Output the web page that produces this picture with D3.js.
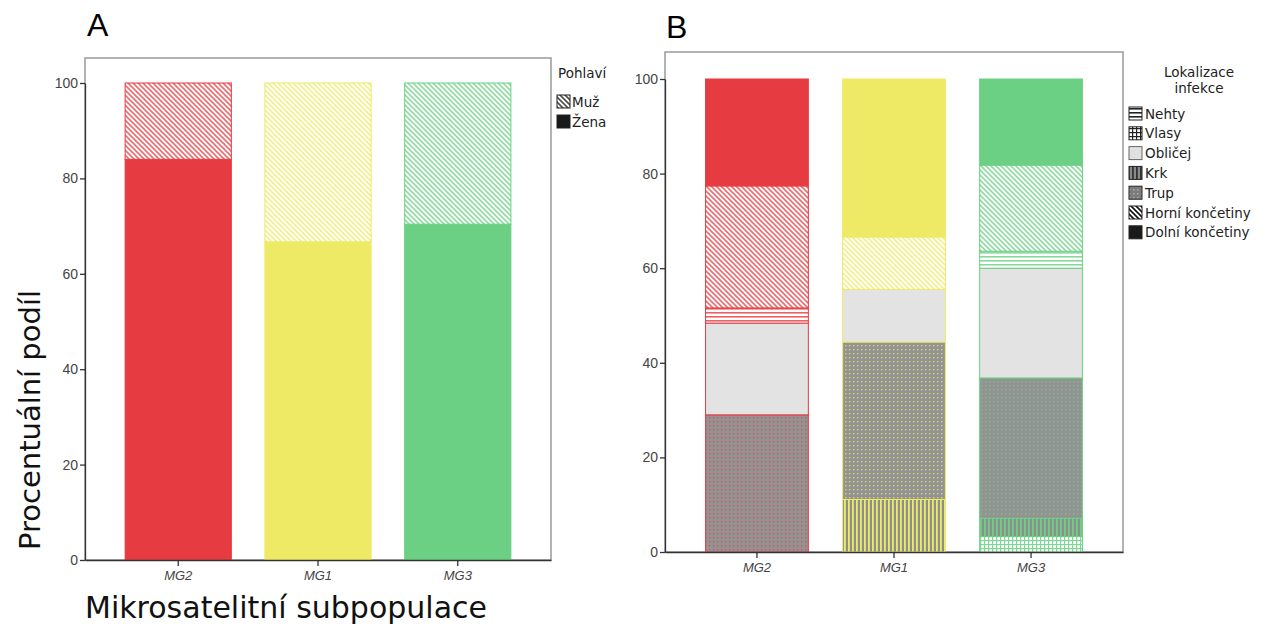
<!DOCTYPE html>
<html>
<head>
<meta charset="utf-8">
<script src="https://cdn.jsdelivr.net/npm/d3@7"></script>
<style>
  html, body { margin: 0; padding: 0; background: #fff; }
  svg { display: block; }
  .tick text { fill: #444; }
</style>
</head>
<body>
<svg id="chart" width="1278" height="629"></svg>
<script>
// Subpopulations (x categories)
const groups = ["MG2", "MG1", "MG3"];
const groupColors = ["#e63b40", "#eeea66", "#6bd083"];
const yTicks = [0, 20, 40, 60, 80, 100];

// Panel A: share by sex (%)
const sexLegend = ["Muž", "Žena"];
const zenaPct = [84.0, 66.7, 70.4];
const muzPct = [16.0, 33.3, 29.6];

// Panel B: share by infection site (%), stacked bottom to top
const siteStackOrder = ["Vlasy", "Krk", "Trup", "Obličej", "Nehty", "Horní končetiny", "Dolní končetiny"];
const siteLegend = ["Nehty", "Vlasy", "Obličej", "Krk", "Trup", "Horní končetiny", "Dolní končetiny"];
const vlasyPct = [0, 0, 3.3];
const krkPct = [0, 11.1, 3.8];
const trupPct = [29.0, 33.3, 29.7];
const oblicejPct = [19.4, 11.1, 23.2];
const nehtyPct = [3.2, 0, 3.6];
const horniPct = [25.8, 11.1, 18.2];
const dolniPct = [22.6, 33.4, 18.2];

const svg = d3.select("#chart");
const defs = svg.append("defs");

// Texture for each fill style, in a given line colour
const patternKinds = {
  diag: (p, c, bg) => {
    p.attr("width", 5).attr("height", 5);
    p.append("rect").attr("width", 5).attr("height", 5).attr("fill", bg);
    p.append("path").attr("d", "M0,0L5,5M-1,4L1,6M4,-1L6,1")
      .attr("stroke", c).attr("stroke-width", 1.6);
  },
  hlines: (p, c, bg) => {
    p.attr("width", 4).attr("height", 4);
    p.append("rect").attr("width", 4).attr("height", 4).attr("fill", bg);
    p.append("rect").attr("y", 0).attr("width", 4).attr("height", 1.6).attr("fill", c);
  },
  grid: (p, c, bg) => {
    p.attr("width", 4).attr("height", 4);
    p.append("rect").attr("width", 4).attr("height", 4).attr("fill", bg);
    p.append("rect").attr("width", 4).attr("height", 1.2).attr("fill", c);
    p.append("rect").attr("width", 1.2).attr("height", 4).attr("fill", c);
  },
  vlines: (p, c, bg) => {
    p.attr("width", 4).attr("height", 4);
    p.append("rect").attr("width", 4).attr("height", 4).attr("fill", bg);
    p.append("rect").attr("x", 0).attr("width", 1.8).attr("height", 4).attr("fill", c);
  },
  dots: (p, c, bg) => {
    p.attr("width", 4).attr("height", 4);
    p.append("rect").attr("width", 4).attr("height", 4).attr("fill", bg);
    p.append("rect").attr("x", 1).attr("y", 1).attr("width", 1.4).attr("height", 1.4).attr("fill", c).attr("opacity", 0.75);
  }
};

function makePattern(id, kind, line, bg) {
  const p = defs.append("pattern").attr("id", id).attr("patternUnits", "userSpaceOnUse");
  patternKinds[kind](p, line, bg);
  return `url(#${id})`;
}

function lighten(c, k) {
  return d3.interpolateRgb(c, "#ffffff")(k);
}

const siteKind = {
  "Nehty": "hlines", "Vlasy": "grid", "Obličej": "plain", "Krk": "vlines",
  "Trup": "dots", "Horní končetiny": "diag", "Dolní končetiny": "solid"
};

function fillFor(kind, color, key) {
  if (kind === "solid") return color;
  if (kind === "plain") return "#e3e3e3";
  const id = `p-${kind}-${key}`;
  if (!defs.select("#" + id).empty()) return `url(#${id})`;
  if (kind === "diag") return makePattern(id, kind, lighten(color, 0.25), "#ffffff");
  if (kind === "hlines") return makePattern(id, kind, lighten(color, 0.2), "#ffffff");
  if (kind === "grid") return makePattern(id, kind, lighten(color, 0.15), "#ffffff");
  if (kind === "vlines") return makePattern(id, kind, color, "#8e8e8e");
  if (kind === "dots") return makePattern(id, kind, color, "#939393");
}

const fontSans = "'DejaVu Sans', sans-serif";
const fontTick = "'Liberation Sans', Arial, sans-serif";

function drawFrame(g, x0, x1, yTop, yBottom) {
  g.append("rect")
    .attr("x", x0).attr("y", yTop).attr("width", x1 - x0).attr("height", yBottom - yTop)
    .attr("fill", "none").attr("stroke", "#9a9a9a").attr("stroke-width", 1.5);
}

function drawAxes(g, x, y, x0, yBottom) {
  const ya = g.append("g").attr("transform", `translate(${x0},0)`)
    .call(d3.axisLeft(y).tickValues(yTicks).tickSize(5).tickSizeOuter(0).tickPadding(2));
  ya.select(".domain").attr("stroke", "#333").attr("stroke-width", 1.3);
  ya.selectAll(".tick line").attr("stroke", "#333").attr("stroke-width", 1.3);
  ya.selectAll(".tick text").attr("font-family", fontTick).attr("font-size", 14).attr("fill", "#444");

  const xa = g.append("g").attr("transform", `translate(0,${yBottom})`)
    .call(d3.axisBottom(x).tickSize(6).tickSizeOuter(0).tickPadding(5));
  xa.select(".domain").attr("stroke", "#333").attr("stroke-width", 1.3);
  xa.selectAll(".tick line").attr("stroke", "#333").attr("stroke-width", 1.3);
  xa.selectAll(".tick text").attr("font-family", fontTick).attr("font-size", 13)
    .attr("fill", "#444").attr("font-style", "italic");
}

// ---------- Panel A ----------
const gA = svg.append("g");
const xA = d3.scaleBand().domain(groups).range([85, 551]).paddingInner(0.24).paddingOuter(0.287);
const yA = d3.scaleLinear().domain([0, 100]).range([560, 83]);

drawFrame(gA, 85, 551, 58, 560);

const sexRows = groups.map((g, i) => ({ group: g, color: groupColors[i], "Žena": zenaPct[i], "Muž": muzPct[i] }));
const sexStack = d3.stack().keys(["Žena", "Muž"])(sexRows);

sexStack.forEach(layer => {
  gA.append("g").selectAll("rect").data(layer).join("rect")
    .attr("x", d => xA(d.data.group))
    .attr("width", xA.bandwidth())
    .attr("y", d => yA(d[1]))
    .attr("height", d => yA(d[0]) - yA(d[1]))
    .attr("fill", d => layer.key === "Žena" ? d.data.color : fillFor("diag", d.data.color, "A" + d.data.group))
    .attr("stroke", d => d.data.color)
    .attr("stroke-width", 1);
});

drawAxes(gA, xA, yA, 85, 560);

gA.append("text").attr("x", 87).attr("y", 36).attr("font-family", fontTick).attr("font-size", 32).text("A");

// Legend A
const legA = gA.append("g").attr("font-family", fontSans).attr("font-size", 13.5).attr("fill", "#222");
legA.append("text").attr("x", 558).attr("y", 78).text("Pohlaví");
const legendSexFill = {
  "Muž": fillFor("diag", "#111111", "legMuz"),
  "Žena": "#1a1a1a"
};
sexLegend.forEach((k, i) => {
  const yy = 95 + i * 20;
  legA.append("rect").attr("x", 557).attr("y", yy).attr("width", 13).attr("height", 13)
    .attr("fill", legendSexFill[k]).attr("stroke", "#222").attr("stroke-width", 1);
  legA.append("text").attr("x", 572).attr("y", yy + 11.5).text(k);
});

// Axis titles (shared)
svg.append("text")
  .attr("transform", "translate(40,420) rotate(-90)")
  .attr("text-anchor", "middle").attr("font-family", fontSans).attr("font-size", 29)
  .attr("fill", "#111").text("Procentuální podíl");
svg.append("text")
  .attr("x", 85).attr("y", 618).attr("font-family", fontSans).attr("font-size", 30)
  .attr("fill", "#111").text("Mikrosatelitní subpopulace");

// ---------- Panel B ----------
const gB = svg.append("g");
const xB = d3.scaleBand().domain(groups).range([665, 1123]).paddingInner(0.25).paddingOuter(0.296);
const yB = d3.scaleLinear().domain([0, 100]).range([552, 79]);

drawFrame(gB, 665, 1123, 52, 552);

const siteValues = {
  "Vlasy": vlasyPct, "Krk": krkPct, "Trup": trupPct, "Obličej": oblicejPct,
  "Nehty": nehtyPct, "Horní končetiny": horniPct, "Dolní končetiny": dolniPct
};
const siteRows = groups.map((g, i) => {
  const row = { group: g, color: groupColors[i] };
  siteStackOrder.forEach(k => { row[k] = siteValues[k][i]; });
  return row;
});
const siteStack = d3.stack().keys(siteStackOrder)(siteRows);

siteStack.forEach(layer => {
  gB.append("g").selectAll("rect").data(layer.filter(d => d[1] - d[0] > 0)).join("rect")
    .attr("x", d => xB(d.data.group))
    .attr("width", xB.bandwidth())
    .attr("y", d => yB(d[1]))
    .attr("height", d => yB(d[0]) - yB(d[1]))
    .attr("fill", d => fillFor(siteKind[layer.key], d.data.color, "B" + d.data.group))
    .attr("stroke", d => d.data.color)
    .attr("stroke-width", 1);
});

drawAxes(gB, xB, yB, 665, 552);

gB.append("text").attr("x", 666).attr("y", 38).attr("font-family", fontTick).attr("font-size", 32).text("B");

// Legend B
const legB = gB.append("g").attr("font-family", fontSans).attr("font-size", 13.5).attr("fill", "#222");
legB.append("text").attr("x", 1199).attr("y", 77).attr("text-anchor", "middle").text("Lokalizace");
legB.append("text").attr("x", 1199).attr("y", 93).attr("text-anchor", "middle").text("infekce");
const legendSiteFill = {
  "Nehty": makePattern("lg-nehty", "hlines", "#222", "#ffffff"),
  "Vlasy": makePattern("lg-vlasy", "grid", "#222", "#ffffff"),
  "Obličej": "#e0e0e0",
  "Krk": makePattern("lg-krk", "vlines", "#333", "#8a8a8a"),
  "Trup": makePattern("lg-trup", "dots", "#c0c0c0", "#7c7c7c"),
  "Horní končetiny": makePattern("lg-horni", "diag", "#111", "#ffffff"),
  "Dolní končetiny": "#1a1a1a"
};
siteLegend.forEach((k, i) => {
  const yy = 107 + i * 19.8;
  legB.append("rect").attr("x", 1129).attr("y", yy).attr("width", 13).attr("height", 13)
    .attr("fill", legendSiteFill[k]).attr("stroke", k === "Obličej" ? "#666" : "#222").attr("stroke-width", 1);
  legB.append("text").attr("x", 1145).attr("y", yy + 11.5).text(k);
});
</script>
</body>
</html>
